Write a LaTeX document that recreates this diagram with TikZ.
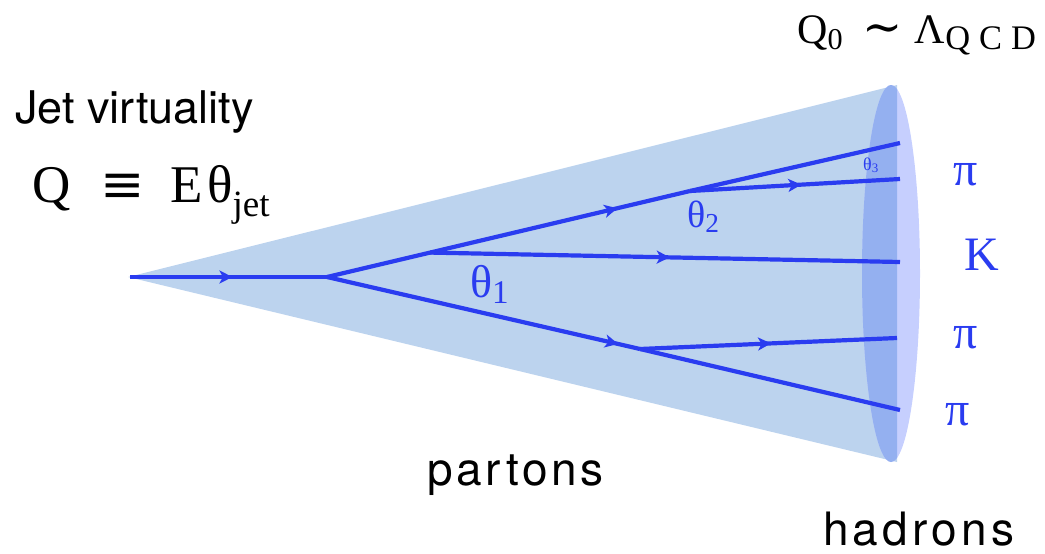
\documentclass[tikz,border=0pt]{standalone}
\usepackage{fontspec}
\usepackage{graphicx}
\setmainfont{Liberation Serif}
\setsansfont{TeX Gyre Heros}
\newfontfamily\symfont{DejaVu Serif}
\usetikzlibrary{arrows.meta,decorations.markings,calc}
\definecolor{jetfill}{HTML}{BCD3EE}
\definecolor{capdark}{HTML}{94B0F0}
\definecolor{caplight}{HTML}{C6CFFE}
\definecolor{parton}{HTML}{2A3CF0}
% subscript: optional drop, scaled text
\newcommand{\lo}[3][0.15em]{\raisebox{-#1}{\scalebox{#2}{#3}}}
\newcommand{\spaced}[2]{{\addfontfeature{LetterSpace=#1}#2}}
\tikzset{prt/.style={line width=4.2pt,draw=parton},
  flow/.style={prt,postaction={decorate},
    decoration={markings,mark=at position #1 with {\arrow{Stealth[length=13pt,width=13pt,inset=3.5pt]}}}},
  flow/.default=0.5,
  lab/.style={inner sep=0pt,anchor=base west,font=\sffamily\fontsize{45}{50}\selectfont},
  sym/.style={inner sep=0pt,anchor=base west,font=\fontsize{48}{52}\selectfont}}

\begin{document}
\begin{tikzpicture}[x=1pt,y=-1pt]
\useasboundingbox (0,0) rectangle (1045,554);
% the jet cone and its end cap
\coordinate (apex) at (128,277);
\fill[jetfill] (apex) -- (897,85) -- (897,462) -- cycle;
\fill[caplight] (891,273.5) ellipse [x radius=29,y radius=188.5];
\begin{scope}
\clip (800,0) rectangle (897,554);
\fill[capdark] (891,273.5) ellipse [x radius=29,y radius=188.5];
\end{scope}
% branching points
\coordinate (start) at (130,277);
\coordinate (fork1) at (327,277);
\coordinate (fork2) at (690,191);
\coordinate (fork3) at (640,349);
\coordinate (kfork) at ($(fork1)!0.284!(fork2)$);
\coordinate (endA) at (900,143);
\coordinate (endB) at (900,179);
\coordinate (endK) at (900,262);
\coordinate (endC) at (897,338);
\coordinate (endD) at (900,410);
% partons
\draw[flow=0.52] (start) -- (fork1);
\draw[flow=0.80] (fork1) -- (fork2);
\draw[prt] (fork2) -- (endA);
\draw[flow=0.53] (fork2) -- (endB);
\draw[flow=0.51] (kfork) -- (endK);
\draw[flow=0.93] (fork1) -- (fork3);
\draw[prt] (fork3) -- (endD);
\draw[flow=0.51] (fork3) -- (endC);
% labels
\node[lab] (jetlab) at (15,123) {Jet virtuality};
\node[sym,font=\fontsize{53}{56}\selectfont] (qlab) at (32,202)
  {Q\hspace{30pt}{\symfont ≡}\hspace{26pt}E\hspace{4pt}θ\lo[0.28em]{0.7}{jet}};
\node[sym,font=\fontsize{42}{46}\selectfont] (qzero) at (797,43)
  {Q\lo{0.72}{0}\hspace{20pt}{\symfont\fontsize{48}{50}\selectfont ∼}\hspace{12pt}Λ\lo{0.82}{\spaced{26}{QCD}}};
\node[sym,text=parton,font=\fontsize{46}{50}\selectfont] (th1) at (470,297) {θ\lo{0.72}{1}};
\node[sym,text=parton,font=\fontsize{38}{40}\selectfont] (th2) at (687,227) {θ\lo{0.72}{2}};
\node[sym,text=parton,font=\fontsize{18}{20}\selectfont] (th3) at (863,170) {θ\lo{0.72}{3}};
\node[sym,text=parton,anchor=base] (pione) at (966,185) {π};
\node[sym,text=parton,anchor=base] (kaon) at (982,270) {K};
\node[sym,text=parton,anchor=base] (pitwo) at (966,348) {π};
\node[sym,text=parton,anchor=base] (pithree) at (958,425) {π};
\node[lab,font=\sffamily\fontsize{46}{50}\selectfont\addfontfeature{LetterSpace=8}] (partons) at (427,485) {partons};
\node[lab,font=\sffamily\fontsize{46}{50}\selectfont\addfontfeature{LetterSpace=9}] (hadrons) at (823,545) {hadrons};
\end{tikzpicture}
\end{document}
